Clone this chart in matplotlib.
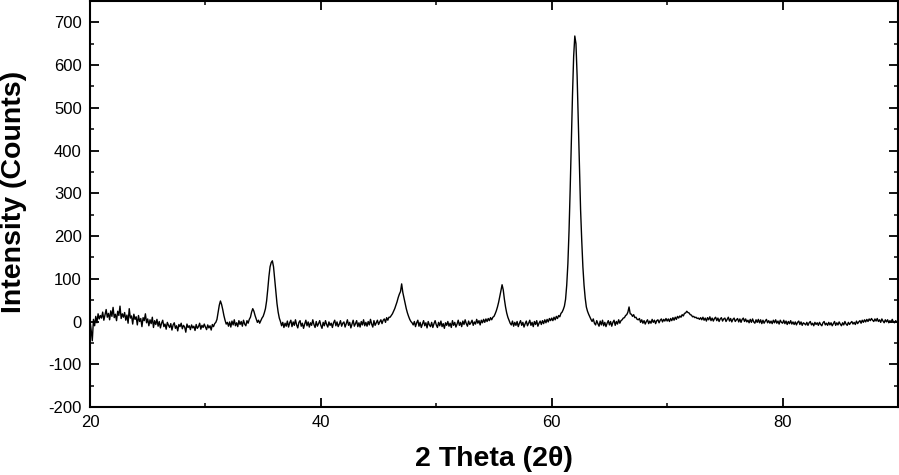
import numpy as np
import matplotlib
matplotlib.use("Agg")
from matplotlib import pyplot as plt
from matplotlib.ticker import MultipleLocator

# XRD scan: 20-90 deg, 0.1 deg step, intensities
scan_start = 20.0
scan_step = 0.1

counts_20_30 = [
	2, -20, -45, 5, -10, 12, -3, 18, 6, 14,
	8, 22, 3, 15, 28, 10, 19, 4, 25, 12,
	33, 9, 17, 2, 24, 14, 36, 7, 18, 10,
	21, 3, 15, -4, 30, 8, 13, -6, 17, 5,
	11, -8, 14, 0, 7, -12, 9, 2, 18, -3,
	6, -10, 4, -5, 10, -14, 2, -7, 5, -11,
	0, -15, -4, 3, -12, -6, -18, -2, -9, -14,
	-5, -20, -8, -3, -16, -10, -22, -7, -12, -4,
	-17, -9, -13, -25, -6, -14, -10, -19, -8, -15,
	-11, -21, -7, -16, -12, -4, -18, -9, -14, -6,
]
counts_30_40 = [
	-13, -19, -8, -15, -10, -20, -7, -12, -5, -2,
	5, 22, 38, 48, 40, 28, 14, 3, -6, -2,
	-11, -1, -13, 1, -8, 4, -10, -3, -12, 2,
	-7, 0, -11, 3, -6, -10, 2, -4, 5, 10,
	22, 30, 24, 14, 6, -2, 3, -4, 2, 8,
	12, 20, 30, 48, 75, 105, 128, 138, 142, 128,
	100, 70, 42, 22, 8, 0, -10, -2, -14, -4,
	-11, 1, -13, -3, 3, -12, -1, -9, 4, -8,
	-15, -2, 2, -11, -4, -16, -6, 3, -10, -1,
	-13, -3, -9, 4, -7, -14, 0, -11, -5, 2,
]
counts_40_50 = [
	-9, -16, -2, -10, 2, -7, -13, -1, -9, -4,
	-14, -3, 3, -10, -1, -12, -6, 2, -11, -4,
	-1, -13, -5, 4, -9, -2, -15, -6, 3, -11,
	-5, 2, -12, -3, -13, 0, -8, 4, -10, -2,
	-11, 0, -8, 5, -6, -13, 2, -9, -3, 3,
	-7, -1, 4, -5, 3, 6, -2, 9, 3, 10,
	10, 14, 18, 24, 30, 38, 46, 56, 64, 70,
	88, 68, 55, 42, 30, 20, 12, 5, 0, -3,
	-8, 0, -12, -3, 3, -11, -2, -14, -6, 2,
	-10, -3, -15, 0, -8, -12, -2, -14, -5, 2,
]
counts_50_60 = [
	-8, -14, -2, -10, 1, -12, -5, -16, -3, -9,
	0, -11, -4, -14, 2, -9, -2, -13, -6, 3,
	-9, -2, -12, 1, -7, 4, -5, -11, 1, -7,
	-3, 3, -9, -1, -6, 5, -4, 2, -8, 3,
	-3, 5, -2, 6, 0, 7, 2, 9, 4, 10,
	12, 18, 25, 34, 45, 58, 72, 86, 74, 52,
	34, 20, 10, 3, -4, -8, 1, -11, -2, -9,
	0, -12, -4, 2, -9, -2, -13, -5, 1, -10,
	-4, 3, -9, -2, -12, 0, -7, 2, -11, -4,
	1, -7, 2, -5, 4, -3, 5, -1, 7, 2,
]
counts_60_70 = [
	8, 2, 10, 4, 12, 7, 14, 11, 19, 22,
	28, 36, 52, 85, 135, 212, 310, 420, 530, 620,
	668, 650, 575, 470, 360, 262, 190, 128, 85, 55,
	34, 24, 17, 11, 5, 0, 6, -4, -8, 2,
	-5, -11, 1, -8, 3, -10, -2, -12, -4, 2,
	-8, 0, -11, -2, 3, -9, 0, -6, 4, -4,
	2, 4, 8, 9, 14, 16, 22, 34, 18, 17,
	12, 16, 9, 10, 5, 4, 7, -2, 4, -4,
	2, -6, 0, 4, -5, 1, -4, 5, -2, 3,
	-5, 2, 4, -3, 3, 6, -1, 5, 1, 7,
]
counts_70_80 = [
	1, 6, 0, 7, 2, 9, 3, 10, 5, 12,
	8, 13, 10, 16, 13, 19, 20, 24, 21, 20,
	16, 15, 11, 12, 9, 10, 7, 8, 5, 9,
	4, 10, 3, 8, 1, 9, 4, 11, 2, 8,
	1, 7, 10, 2, 8, 0, 6, 9, 1, 6,
	8, 0, 5, 10, 1, 7, -1, 5, 8, 0,
	4, 7, -1, 6, -2, 5, 8, 0, 6, -1,
	3, -3, 5, -2, 6, -1, -4, 4, -2, 5,
	-3, 4, -5, 3, -4, 1, 5, -3, 2, -4,
	1, -5, 3, -3, 4, -4, 1, -6, 3, -2,
]
counts_80_90 = [
	-4, 3, -5, 1, -7, 0, -5, 2, -6, -1,
	-7, -1, -8, -2, 1, -7, -1, -9, -3, -5,
	-8, -2, -9, -3, 0, -8, -4, -10, -2, -7,
	-3, -9, -2, -7, -10, -3, 0, -8, -4, -9,
	-2, -8, -3, -10, -5, 0, -9, -3, -8, -1,
	-6, -10, -3, -8, 0, -6, -9, -2, -7, -3,
	0, -6, -2, -7, 1, -5, -1, 2, -4, 3,
	-2, 4, -1, 5, 0, 6, 2, 7, 3, 0,
	6, 1, 7, 0, 4, -2, 6, 1, -3, 4,
	-1, 4, -3, 2, -2, 5, -1, -3, 2, -2,
	0,
]

intensity = np.array(counts_20_30 + counts_30_40 + counts_40_50 + counts_50_60
	+ counts_60_70 + counts_70_80 + counts_80_90, dtype=float)
two_theta = scan_start + scan_step * np.arange(len(intensity))

plt.rcParams["font.family"] = ["Liberation Sans", "DejaVu Sans"]
plt.rcParams["axes.unicode_minus"] = False

fig = plt.figure(figsize=(8.99, 4.75), dpi=100)
ax = fig.add_axes([0.1001, 0.1432, 0.8988, 0.8548])

ax.plot(two_theta, intensity, color="black", linewidth=1.0)

ax.set_xlim(20, 90)
ax.set_ylim(-200, 750)
ax.xaxis.set_major_locator(MultipleLocator(20))
ax.xaxis.set_minor_locator(MultipleLocator(10))
ax.yaxis.set_major_locator(MultipleLocator(100))
ax.yaxis.set_minor_locator(MultipleLocator(50))

ax.tick_params(which="both", direction="in", top=True, right=True, labelsize=12, pad=6)
ax.tick_params(which="major", length=6.5, width=1.3)
ax.tick_params(which="minor", length=3.2, width=1.1)
for spine in ax.spines.values():
	spine.set_linewidth(1.5)

ax.set_xlabel("2 Theta (2θ)", fontsize=20.5, fontweight="bold")
ax.set_ylabel("Intensity (Counts)", fontsize=20.5, fontweight="bold")
ax.xaxis.set_label_coords(0.5, -0.095)
ax.yaxis.set_label_coords(-0.078, 0.53)

fig.savefig("out.png", dpi=100)
